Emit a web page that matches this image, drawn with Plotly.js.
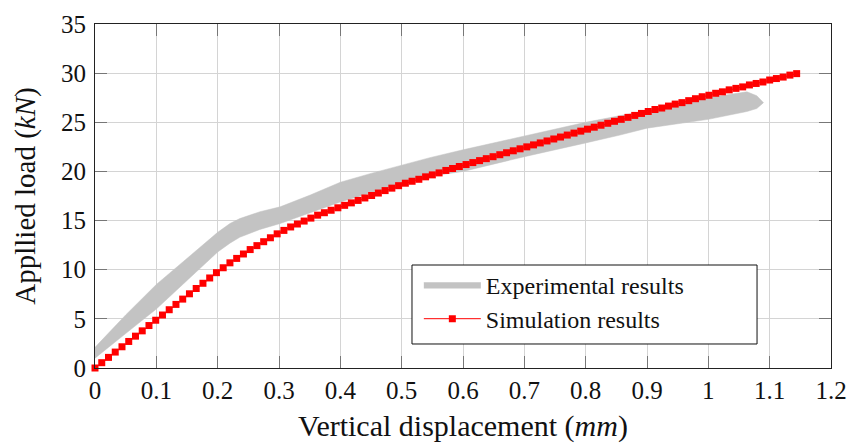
<!DOCTYPE html>
<html>
<head>
<meta charset="utf-8">
<script src="https://cdn.plot.ly/plotly-3.0.1.min.js"></script>
<style>html,body{margin:0;padding:0;background:#fff;}#chart{width:850px;height:443px;}</style>
</head>
<body>
<div id="chart"></div>
<script>
// Experimental results: band outline (upper edge forward, then lower edge back)
const expUpperX = [0, 0.05, 0.1, 0.15, 0.2, 0.22, 0.236, 0.269, 0.302, 0.351, 0.4, 0.45, 0.503, 0.546, 0.6, 0.649, 0.7, 0.8, 0.9, 1.0, 1.063, 1.079, 1.09];
const expUpperY = [2.1, 5.4, 8.5, 11.2, 13.8, 14.7, 15.2, 15.9, 16.4, 17.6, 18.9, 19.8, 20.7, 21.4, 22.2, 22.9, 23.6, 25.0, 26.2, 27.5, 28.1, 27.7, 27.0];
const expLowerX = [1.079, 1.063, 1.0, 0.9, 0.856, 0.8, 0.7, 0.6, 0.546, 0.503, 0.4, 0.302, 0.269, 0.236, 0.22, 0.2, 0.15, 0.1, 0.05, 0];
const expLowerY = [26.4, 26.1, 25.3, 24.4, 23.7, 22.9, 21.5, 20.0, 19.5, 18.8, 16.9, 14.7, 14.1, 13.3, 12.7, 11.8, 8.9, 6.0, 3.5, 1.0];

// Simulation results
const simX = [0, 0.011, 0.022, 0.033, 0.044, 0.055, 0.066, 0.077, 0.088, 0.099,
  0.110, 0.121, 0.132, 0.143, 0.154, 0.165, 0.176, 0.187, 0.198, 0.209,
  0.220, 0.231, 0.242, 0.253, 0.264, 0.275, 0.286, 0.297, 0.308, 0.319,
  0.330, 0.341, 0.352, 0.363, 0.374, 0.385, 0.396, 0.407, 0.418, 0.429,
  0.440, 0.451, 0.462, 0.473, 0.484, 0.495, 0.506, 0.517, 0.528, 0.539,
  0.550, 0.561, 0.572, 0.583, 0.594, 0.605, 0.616, 0.627, 0.638, 0.649,
  0.660, 0.671, 0.682, 0.693, 0.704, 0.715, 0.726, 0.737, 0.748, 0.759,
  0.770, 0.781, 0.792, 0.803, 0.814, 0.825, 0.836, 0.847, 0.858, 0.869,
  0.880, 0.891, 0.902, 0.913, 0.924, 0.935, 0.946, 0.957, 0.968, 0.979,
  0.990, 1.001, 1.012, 1.023, 1.034, 1.045, 1.056, 1.067, 1.078, 1.089,
  1.100, 1.111, 1.122, 1.133, 1.144];
const simY = [0, 0.54, 1.08, 1.62, 2.16, 2.70, 3.24, 3.78, 4.32, 4.86,
  5.39, 5.93, 6.47, 7.01, 7.55, 8.09, 8.62, 9.16, 9.70, 10.2,
  10.7, 11.15, 11.6, 12.05, 12.45, 12.85, 13.25, 13.65, 14.0, 14.35,
  14.65, 14.95, 15.25, 15.55, 15.8, 16.05, 16.3, 16.55, 16.8, 17.05,
  17.3, 17.55, 17.8, 18.05, 18.3, 18.55, 18.8, 19.0, 19.2, 19.45,
  19.65, 19.85, 20.1, 20.3, 20.5, 20.7, 20.9, 21.1, 21.3, 21.5,
  21.7, 21.9, 22.1, 22.3, 22.5, 22.7, 22.9, 23.1, 23.3, 23.5,
  23.7, 23.9, 24.1, 24.3, 24.5, 24.7, 24.9, 25.1, 25.3, 25.5,
  25.7, 25.9, 26.1, 26.3, 26.45, 26.65, 26.85, 27.0, 27.2, 27.4,
  27.6, 27.75, 27.95, 28.1, 28.3, 28.45, 28.6, 28.8, 28.95, 29.1,
  29.3, 29.45, 29.6, 29.8, 29.95];

const seriesNames = ['Experimental results', 'Simulation results'];
const xTitle = 'Vertical displacement (<i>mm</i>)';
const yTitle = 'Appllied load (<i>kN</i>)';

const FONT = '"Liberation Serif", serif';
const GRAY = '#c3c3c3';

const traces = [
  {
    x: expUpperX.concat(expLowerX),
    y: expUpperY.concat(expLowerY),
    type: 'scatter', mode: 'lines',
    fill: 'toself', fillcolor: GRAY,
    line: {color: GRAY, width: 0.5},
    name: seriesNames[0],
    hoverinfo: 'skip'
  },
  {
    x: simX, y: simY,
    type: 'scatter', mode: 'lines+markers',
    line: {color: '#ff0000', width: 1},
    marker: {symbol: 'square', size: 7, color: '#ff0000'},
    cliponaxis: false,
    name: seriesNames[1]
  }
];

const axisCommon = {
  showline: true, linecolor: '#222', linewidth: 1,
  mirror: 'allticks', ticks: 'inside', ticklen: 12, tickcolor: '#777', tickwidth: 1,
  showgrid: true, gridcolor: '#d4d4d4', gridwidth: 1,
  zeroline: false,
  tickfont: {family: FONT, size: 25, color: '#111'}
};

const layout = {
  width: 850, height: 443,
  margin: {l: 95, r: 19, t: 24, b: 75},
  paper_bgcolor: '#fff', plot_bgcolor: '#fff',
  font: {family: FONT, color: '#111'},
  xaxis: Object.assign({}, axisCommon, {
    range: [0, 1.2], tick0: 0, dtick: 0.1,
    title: {text: xTitle, font: {family: FONT, size: 30, color: '#111'}, standoff: 11}
  }),
  yaxis: Object.assign({}, axisCommon, {
    range: [0, 35], tick0: 0, dtick: 5, ticklabelstandoff: 3,
    title: {text: yTitle, font: {family: FONT, size: 29, color: '#111'}, standoff: 16}
  }),
  showlegend: true,
  legend: {
    x: 0.440, y: 0.307, xanchor: 'left', yanchor: 'top',
    bgcolor: 'rgba(0,0,0,0)', borderwidth: 0,
    font: {family: FONT, size: 24, color: '#111'},
    itemwidth: 57, traceorder: 'normal'
  },
  shapes: [{
    type: 'rect', xref: 'paper', yref: 'paper', layer: 'above',
    x0: 0.4307, x1: 0.8995, y0: 0.0698, y1: 0.2994,
    line: {color: '#111', width: 1}, fillcolor: '#fff'
  }]
};

Plotly.newPlot('chart', traces, layout, {staticPlot: true, displayModeBar: false});
</script>
</body>
</html>
